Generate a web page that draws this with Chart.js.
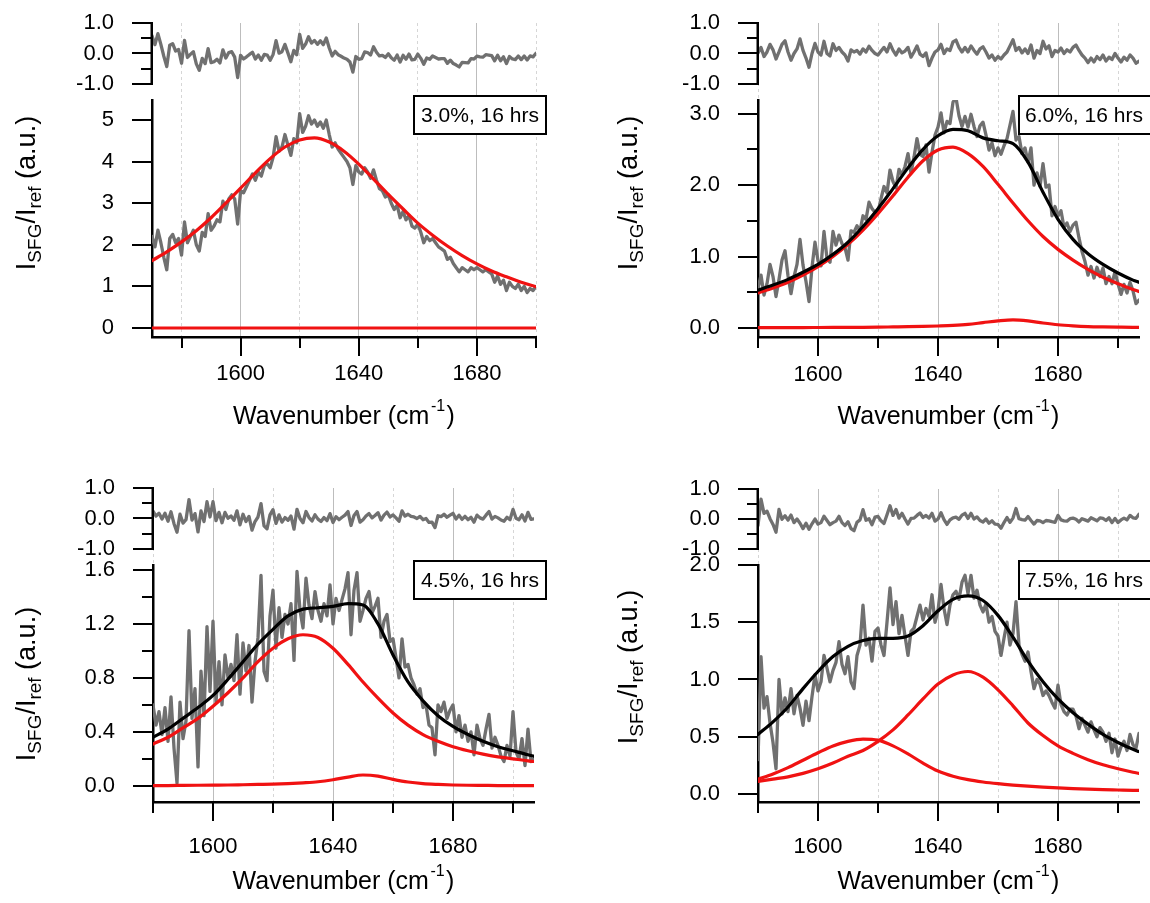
<!DOCTYPE html>
<html>
<head>
<meta charset="utf-8">
<script src="https://cdn.jsdelivr.net/npm/chart.js@4.4.1/dist/chart.umd.min.js"></script>
<style>
  html, body { margin: 0; padding: 0; background: #fff; }
  body { width: 1150px; height: 903px; position: relative; overflow: hidden; }
  canvas { position: absolute; }
</style>
</head>
<body>
<canvas id="c1" width="575" height="452" style="left:0;top:0"></canvas>
<canvas id="c2" width="575" height="452" style="left:575px;top:0"></canvas>
<canvas id="c3" width="575" height="452" style="left:0;top:451px"></canvas>
<canvas id="c4" width="575" height="452" style="left:575px;top:451px"></canvas>
<script>
// ---------------- text ----------------
const xTitleMain = 'Wavenumber (cm';
const xTitleSup = '-1';
const xTitleEnd = ')';
const yTitleParts = [['I', 0], ['SFG', 1], ['/I', 0], ['ref', 1], [' (a.u.)', 0]];
const boxTexts = ['3.0%, 16 hrs', '6.0%, 16 hrs', '4.5%, 16 hrs', '7.5%, 16 hrs'];

// ---------------- tick values / labels ----------------
const xTicks = [1580, 1600, 1620, 1640, 1660, 1680, 1700];
const xTickLabels = ['', '1600', '', '1640', '', '1680', ''];
const resTicks = [-1, -0.5, 0, 0.5, 1];
const resTickLabels = ['-1.0', '', '0.0', '', '1.0'];
const p1Ticks = [0, 1, 2, 3, 4, 5];
const p1TickLabels = ['0', '1', '2', '3', '4', '5'];
const p2Ticks = [0, 0.5, 1, 1.5, 2, 2.5, 3];
const p2TickLabels = ['0.0', '', '1.0', '', '2.0', '', '3.0'];
const p3Ticks = [0, 0.2, 0.4, 0.6, 0.8, 1.0, 1.2, 1.4, 1.6];
const p3TickLabels = ['0.0', '', '0.4', '', '0.8', '', '1.2', '', '1.6'];
const p4Ticks = [0, 0.5, 1, 1.5, 2];
const p4TickLabels = ['0.0', '0.5', '1.0', '1.5', '2.0'];

// ---------------- panel 1 (3.0%) : measured spectrum, 1 cm-1 steps from 1570 ----------------
const p1Start = 1570;
const p1Data = [
  2.20,1.95,2.35,2.05,1.70,1.40,2.15,2.25,2.05,2.15,
  1.75,2.55,2.05,2.20,2.35,2.00,1.85,2.30,2.20,2.75,
  2.35,2.45,2.60,2.55,3.05,2.85,3.10,3.20,3.10,2.50,
  3.30,3.25,3.40,3.55,3.70,3.55,3.75,3.65,3.90,3.95,
  3.85,4.10,4.60,4.25,4.35,4.65,4.40,4.15,4.55,4.45,
  5.15,4.70,4.85,5.10,4.90,5.00,4.85,4.95,4.80,5.00,
  4.65,4.35,4.45,4.30,4.20,4.10,4.00,3.85,3.45,3.90,
  3.75,3.70,3.85,3.75,3.60,3.80,3.55,3.35,3.30,3.15,
  3.20,3.00,2.85,2.95,2.65,2.80,2.60,2.70,2.45,2.40,
  2.50,2.30,2.05,2.20,2.10,2.15,2.05,1.95,1.90,1.85,
  1.65,1.70,1.55,1.45,1.35,1.45,1.40,1.35,1.45,1.40,
  1.45,1.40,1.35,1.40,1.35,1.30,1.10,1.25,1.05,1.15,
  0.90,1.10,1.00,0.95,1.05,0.90,1.00,0.85,0.95,0.90,
  1.00];
const p1Resid = [
  0.58,0.29,0.65,0.30,-0.09,-0.43,0.27,0.32,0.08,0.13,
  -0.32,0.43,-0.13,-0.03,0.06,-0.34,-0.55,-0.16,-0.33,0.16,
  -0.30,-0.27,-0.19,-0.31,0.12,-0.15,0.03,0.06,-0.12,-0.79,
  -0.06,-0.18,-0.11,-0.03,0.04,-0.18,-0.05,-0.22,-0.03,-0.05,
  -0.22,-0.03,0.42,0.01,0.06,0.30,0.02,-0.27,0.10,-0.04,
  0.63,0.17,0.31,0.55,0.34,0.43,0.30,0.42,0.29,0.51,
  0.18,-0.08,0.07,-0.04,-0.09,-0.15,-0.19,-0.28,-0.61,-0.10,
  -0.19,-0.17,0.05,0.03,-0.05,0.22,0.04,-0.08,-0.06,-0.13,
  -0.01,-0.14,-0.22,-0.05,-0.28,-0.06,-0.19,-0.02,-0.21,-0.19,
  -0.02,-0.16,-0.35,-0.15,-0.19,-0.08,-0.13,-0.18,-0.17,-0.17,
  -0.32,-0.22,-0.33,-0.38,-0.44,-0.29,-0.30,-0.31,-0.17,-0.18,
  -0.09,-0.11,-0.12,-0.04,-0.05,-0.07,-0.24,-0.06,-0.24,-0.11,
  -0.33,-0.10,-0.18,-0.20,-0.08,-0.20,-0.08,-0.21,-0.08,-0.11,
  0.01];
const p1FitX = [1570,1575,1580,1585,1590,1595,1600,1605,1610,1615,1620,1625,1630,1635,1640,1645,1650,1655,1660,1665,1670,1675,1680,1685,1690,1695,1700];
const p1FitA = [1.62,1.83,2.07,2.34,2.65,3.00,3.36,3.73,4.07,4.35,4.52,4.57,4.47,4.25,3.94,3.58,3.21,2.86,2.52,2.23,1.97,1.74,1.54,1.37,1.23,1.10,0.99];
const p1FitB = [0,0,0,0,0,0,0,0,0,0,0,0,0,0,0,0,0,0,0,0,0,0,0,0,0,0,0];

// ---------------- shared fit grid for panels 2-4 ----------------
const fitX = [1580,1585,1590,1595,1600,1605,1610,1615,1620,1625,1630,1635,1640,1645,1650,1655,1660,1665,1670,1675,1680,1685,1690,1695,1700,1705,1707];

// ---------------- panel 2 (6.0%) ----------------
const p2Start = 1580;
const p2Data = [
  0.55,0.74,0.46,0.62,0.89,0.72,0.44,0.68,0.95,1.08,
  0.73,0.48,0.72,0.89,1.24,0.88,0.65,0.37,0.85,1.20,
  0.94,0.87,1.35,0.97,0.92,1.35,1.16,1.30,1.18,1.12,
  0.95,1.36,1.34,1.43,1.36,1.57,1.52,1.76,1.67,1.62,
  1.62,1.81,1.98,1.89,2.21,2.05,1.96,2.22,2.14,2.26,
  2.44,2.17,2.39,2.65,2.43,2.40,2.56,2.18,2.46,2.70,
  2.81,3.01,2.73,2.89,2.86,3.16,3.22,2.97,2.82,2.96,
  2.81,2.99,2.82,2.68,2.83,2.88,2.70,2.49,2.59,2.41,
  2.52,2.43,2.55,2.65,2.84,3.03,2.63,2.68,2.44,2.52,
  2.32,2.52,2.00,2.17,1.98,2.30,1.97,2.00,1.57,1.70,
  1.57,1.64,1.41,1.47,1.35,1.44,1.48,1.26,1.07,0.93,
  0.74,0.86,0.70,0.85,0.72,0.84,0.62,0.72,0.62,0.79,
  0.62,0.47,0.61,0.49,0.64,0.52,0.34,0.39];
const p2Resid = [
  0.02,0.20,-0.10,0.05,0.30,0.12,-0.18,0.05,0.30,0.42,
  0.05,-0.22,0.00,0.15,0.48,0.10,-0.15,-0.45,0.00,0.33,
  0.05,-0.05,0.40,0.00,-0.08,0.32,0.10,0.20,0.05,-0.05,
  -0.25,0.12,0.05,0.10,-0.02,0.15,0.05,0.24,0.10,0.00,
  -0.05,0.08,0.20,0.05,0.32,0.10,-0.05,0.15,0.02,0.08,
  0.20,-0.12,0.05,0.25,-0.02,-0.10,0.02,-0.40,-0.15,0.05,
  0.12,0.30,0.00,0.15,0.10,0.38,0.44,0.20,0.05,0.20,
  0.05,0.25,0.10,-0.02,0.15,0.22,0.05,-0.15,-0.05,-0.22,
  -0.10,-0.18,-0.05,0.05,0.25,0.45,0.10,0.20,0.02,0.15,
  0.00,0.28,-0.15,0.10,0.00,0.40,0.15,0.25,-0.10,0.10,
  0.05,0.18,0.00,0.12,0.05,0.20,0.28,0.10,-0.05,-0.15,
  -0.30,-0.15,-0.28,-0.10,-0.20,-0.05,-0.25,-0.12,-0.20,0.00,
  -0.15,-0.28,-0.12,-0.22,-0.05,-0.15,-0.32,-0.25];
const p2FitA = [0.49,0.56,0.64,0.74,0.86,1.00,1.17,1.37,1.60,1.85,2.11,2.34,2.49,2.53,2.44,2.26,2.01,1.75,1.50,1.28,1.10,0.95,0.82,0.71,0.62,0.54,0.51];
const p2FitB = [0.005,0.005,0.006,0.006,0.007,0.008,0.009,0.010,0.012,0.015,0.018,0.022,0.028,0.036,0.050,0.075,0.100,0.115,0.100,0.070,0.045,0.030,0.020,0.015,0.012,0.010,0.010];
const p2FitSum = [0.53,0.60,0.68,0.78,0.89,1.03,1.20,1.42,1.67,1.95,2.24,2.50,2.69,2.78,2.76,2.66,2.62,2.58,2.32,1.90,1.52,1.24,1.04,0.89,0.77,0.67,0.64];

// ---------------- panel 3 (4.5%) ----------------
const p3Start = 1580;
const p3Data = [
  0.60,0.45,0.55,0.38,0.58,0.33,0.66,0.28,0.02,0.62,
  0.35,0.48,1.15,0.50,0.72,0.14,0.85,0.52,1.18,0.70,
  1.22,0.62,0.92,0.60,0.97,0.80,0.90,0.78,1.12,0.68,
  1.06,0.85,1.04,0.62,0.92,1.10,1.56,0.85,0.78,1.26,
  1.45,1.02,1.32,1.10,1.27,1.20,1.35,0.93,1.59,1.30,
  1.17,1.54,1.34,1.24,1.44,1.30,1.22,1.35,1.26,1.49,
  1.20,1.39,1.30,1.38,1.46,1.58,1.12,1.45,1.58,1.22,
  1.30,1.39,1.44,1.28,1.33,1.39,1.10,1.22,1.27,1.07,
  1.09,0.95,0.80,1.09,0.88,0.90,0.80,0.75,0.68,0.72,
  0.58,0.60,0.45,0.43,0.23,0.60,0.55,0.62,0.50,0.56,
  0.60,0.40,0.52,0.36,0.45,0.33,0.40,0.23,0.45,0.35,
  0.30,0.42,0.53,0.28,0.36,0.30,0.22,0.18,0.30,0.22,
  0.55,0.25,0.20,0.35,0.15,0.42,0.18,0.20];
const p3Resid = [
  0.24,0.08,0.17,-0.02,0.17,-0.09,0.22,-0.17,-0.45,0.14,
  -0.15,-0.04,0.62,-0.05,0.16,-0.44,0.25,-0.10,0.55,0.05,
  0.55,-0.07,0.20,-0.14,0.20,0.01,0.08,-0.06,0.25,-0.21,
  0.14,-0.10,0.07,-0.38,-0.10,0.05,0.49,-0.24,-0.34,0.12,
  0.29,-0.16,0.12,-0.12,0.03,-0.06,0.08,-0.35,0.30,0.00,
  -0.14,0.23,0.03,-0.08,0.12,-0.02,-0.10,0.03,-0.07,0.16,
  -0.13,0.06,-0.04,0.04,0.11,0.23,-0.23,0.10,0.23,-0.12,
  -0.04,0.08,0.16,0.02,0.10,0.19,-0.05,0.11,0.21,0.05,
  0.12,0.02,-0.09,0.25,0.08,0.14,0.07,0.05,0.00,0.07,
  -0.04,0.00,-0.13,-0.12,-0.30,0.09,0.06,0.14,0.04,0.11,
  0.17,-0.02,0.11,-0.03,0.07,-0.04,0.04,-0.12,0.11,0.02,
  -0.02,0.11,0.23,-0.02,0.07,0.02,-0.05,-0.09,0.04,-0.04,
  0.30,0.01,-0.04,0.12,-0.08,0.20,-0.03,-0.01];
const p3FitA = [0.31,0.36,0.43,0.50,0.59,0.69,0.80,0.92,1.02,1.09,1.12,1.10,1.02,0.90,0.77,0.65,0.54,0.45,0.38,0.33,0.29,0.26,0.235,0.215,0.20,0.185,0.18];
const p3FitB = [0.002,0.002,0.003,0.004,0.005,0.006,0.008,0.010,0.012,0.016,0.022,0.030,0.045,0.065,0.080,0.072,0.048,0.028,0.016,0.010,0.006,0.004,0.003,0.002,0.002,0.002,0.002];
const p3FitSum = [0.36,0.42,0.50,0.58,0.67,0.79,0.92,1.05,1.16,1.26,1.31,1.32,1.33,1.35,1.34,1.20,0.97,0.77,0.63,0.52,0.44,0.38,0.33,0.29,0.26,0.23,0.22];

// ---------------- panel 4 (7.5%) ----------------
const p4Start = 1580;
const p4Data = [
  0.30,1.20,0.75,0.85,0.62,0.45,0.22,1.00,0.70,0.84,
  0.72,0.92,0.70,0.86,0.75,0.60,0.81,0.64,0.85,1.04,
  0.90,0.98,1.21,1.10,0.98,1.08,1.15,1.33,1.13,1.05,
  1.20,0.98,0.92,1.21,1.30,1.65,1.30,1.36,1.16,1.42,
  1.45,1.30,1.21,1.50,1.80,1.48,1.68,1.40,1.56,1.38,
  1.21,1.42,1.45,1.55,1.65,1.52,1.62,1.55,1.74,1.50,
  1.60,1.83,1.62,1.48,1.65,1.74,1.77,1.70,1.85,1.91,
  1.75,1.91,1.71,1.78,1.65,1.59,1.66,1.50,1.55,1.42,
  1.38,1.21,1.36,1.50,1.30,1.40,1.68,1.30,1.22,1.16,
  1.24,1.07,0.92,1.00,0.96,0.86,0.90,0.86,0.80,0.75,
  0.95,0.78,0.72,0.69,0.74,0.74,0.68,0.57,0.66,0.60,
  0.54,0.63,0.56,0.50,0.58,0.54,0.46,0.53,0.36,0.48,
  0.33,0.41,0.46,0.38,0.52,0.43,0.40,0.53];
const p4Resid = [
  -0.22,0.66,0.19,0.26,0.01,-0.18,-0.44,0.32,-0.01,0.11,
  -0.04,0.13,-0.12,0.00,-0.14,-0.32,-0.14,-0.34,-0.16,0.00,
  -0.17,-0.12,0.09,-0.05,-0.19,-0.12,-0.07,0.09,-0.12,-0.22,
  -0.09,-0.32,-0.39,-0.11,-0.03,0.31,-0.04,0.01,-0.19,0.06,
  0.09,-0.06,-0.15,0.14,0.44,0.12,0.32,0.03,0.19,0.00,
  -0.17,0.02,0.03,0.12,0.20,0.05,0.12,0.03,0.19,-0.07,
  0.00,0.21,-0.02,-0.18,-0.03,0.04,0.06,-0.01,0.13,0.19,
  0.02,0.19,0.00,0.07,-0.05,-0.10,0.00,-0.14,-0.06,-0.17,
  -0.18,-0.31,-0.12,0.05,-0.11,0.03,0.35,0.01,-0.02,-0.04,
  0.08,-0.05,-0.17,-0.05,-0.06,-0.12,-0.05,-0.06,-0.09,-0.11,
  0.12,-0.03,-0.06,-0.07,0.01,0.03,-0.01,-0.10,0.01,-0.03,
  -0.07,0.04,-0.01,-0.06,0.04,0.02,-0.05,0.04,-0.12,0.02,
  -0.12,-0.03,0.03,-0.03,0.12,0.04,0.02,0.16];
const p4FitA = [0.11,0.13,0.15,0.18,0.22,0.27,0.33,0.38,0.46,0.56,0.69,0.83,0.96,1.04,1.07,1.02,0.91,0.77,0.62,0.51,0.42,0.355,0.30,0.255,0.22,0.19,0.18];
const p4FitB = [0.13,0.175,0.23,0.295,0.36,0.42,0.46,0.48,0.47,0.42,0.35,0.27,0.20,0.155,0.125,0.105,0.09,0.078,0.068,0.06,0.053,0.047,0.042,0.038,0.035,0.032,0.031];
const p4FitSum = [0.52,0.63,0.76,0.92,1.07,1.20,1.29,1.34,1.36,1.36,1.38,1.47,1.60,1.70,1.73,1.69,1.56,1.37,1.16,0.98,0.83,0.71,0.61,0.52,0.45,0.39,0.37];

// ---------------- styling / layout ----------------
const FONT = '"Liberation Sans", Arial, Helvetica, sans-serif';
const GRAY = '#707070';
const RED = '#f01212';
const BLACK = '#000000';
const MAJOR_X = new Set([1600, 1640, 1680]);

function pts(xs, ys) { return ys.map((v, i) => ({x: xs[i], y: v})); }
function grid(start, n) { const a = []; for (let i = 0; i < n; i++) a.push(start + i); return a; }
function noPad(s) { s.paddingTop = 0; s.paddingBottom = 0; s.paddingLeft = 0; s.paddingRight = 0; }

const decor = {
  id: 'decor',
  afterDraw(chart, args, o) {
    const ctx = chart.ctx;
    const {x, y, yr} = chart.scales;
    ctx.save();
    ctx.strokeStyle = '#000';
    ctx.lineCap = 'butt';
    // residual axis line (only between its end ticks)
    ctx.lineWidth = 2.5;
    ctx.beginPath();
    ctx.moveTo(yr.right - 0.25, yr.getPixelForValue(resTicks[resTicks.length - 1]) - 1);
    ctx.lineTo(yr.right - 0.25, yr.getPixelForValue(resTicks[0]) + 1);
    ctx.stroke();
    // tick marks
    ctx.lineWidth = 2;
    [y, yr].forEach(s => s.ticks.forEach(t => {
      const py = Math.round(s.getPixelForValue(t.value));
      const len = t.label ? 20 : 11;
      ctx.beginPath(); ctx.moveTo(s.right - len, py); ctx.lineTo(s.right, py); ctx.stroke();
    }));
    x.ticks.forEach(t => {
      const px = Math.round(x.getPixelForValue(t.value));
      const len = t.label ? 19 : 11;
      ctx.beginPath(); ctx.moveTo(px, x.top); ctx.lineTo(px, x.top + len); ctx.stroke();
    });
    // x title with superscript
    ctx.fillStyle = '#000';
    ctx.textBaseline = 'alphabetic';
    ctx.textAlign = 'left';
    const bigF = '25px ' + FONT, supF = '16px ' + FONT;
    ctx.font = bigF; const w1 = ctx.measureText(xTitleMain).width; const w3 = ctx.measureText(xTitleEnd).width;
    ctx.font = supF; const w2 = ctx.measureText(xTitleSup).width;
    let tx = (x.left + x.right) / 2 - (w1 + w2 + w3 + 3) / 2;
    const ty = x.top + o.xTitleDy + 9;
    ctx.font = bigF; ctx.fillText(xTitleMain, tx, ty); tx += w1 + 1.5;
    ctx.font = supF; ctx.fillText(xTitleSup, tx, ty - 13); tx += w2 + 1.5;
    ctx.font = bigF; ctx.fillText(xTitleEnd, tx, ty);
    // y title with subscripts
    const yBig = o.yFont + 'px ' + FONT, ySmall = Math.round(o.yFont * 0.7) + 'px ' + FONT;
    let total = 0;
    const widths = yTitleParts.map(p => { ctx.font = p[1] ? ySmall : yBig; const w = ctx.measureText(p[0]).width; total += w; return w; });
    ctx.translate(o.yTitleX, o.yTitleY);
    ctx.rotate(-Math.PI / 2);
    let lx = -total / 2;
    yTitleParts.forEach((p, i) => {
      ctx.font = p[1] ? ySmall : yBig;
      ctx.fillText(p[0], lx, o.yFont * 0.36 + (p[1] ? o.yFont * 0.22 : 0));
      lx += widths[i];
    });
    ctx.setTransform(1, 0, 0, 1, 0, 0);
    // annotation box
    const b = o.box;
    ctx.fillStyle = '#fff';
    ctx.fillRect(b.x, b.y, b.w, b.h);
    ctx.lineWidth = 2;
    ctx.strokeRect(b.x, b.y, b.w, b.h);
    ctx.fillStyle = '#000';
    ctx.font = '21px ' + FONT;
    ctx.textBaseline = 'middle';
    ctx.textAlign = b.align;
    ctx.fillText(b.text, b.align === 'center' ? b.x + b.w / 2 : b.x + 6, b.y + b.h / 2 + 1);
    ctx.restore();
  }
};

function makePanel(id, p) {
  const dataX = grid(p.start, p.data.length);
  const datasets = [];
  const smooth = {tension: 0.4, cubicInterpolationMode: 'monotone'};
  if (p.fitSum) datasets.push(Object.assign({data: pts(p.fitX, p.fitSum), borderColor: BLACK, yAxisID: 'y', order: 0}, smooth));
  datasets.push(Object.assign({data: pts(p.fitX, p.fitA), borderColor: RED, yAxisID: 'y', order: 1}, smooth));
  datasets.push(Object.assign({data: pts(p.fitX, p.fitB), borderColor: RED, yAxisID: 'y', order: 1}, smooth));
  datasets.push({data: pts(dataX, p.data), borderColor: GRAY, yAxisID: 'y', order: 2, tension: 0, borderWidth: 3.3});
  datasets.push({data: pts(dataX, p.resid), borderColor: GRAY, yAxisID: 'yr', order: 3, tension: 0, borderWidth: 3.3});
  datasets.forEach(d => { if (!d.borderWidth) d.borderWidth = 3.2; d.pointRadius = 0; d.fill = false; d.borderJoinStyle = 'round'; d.borderCapStyle = 'round'; });

  const tickFont = {family: FONT, size: 22};
  new Chart(document.getElementById(id), {
    type: 'line',
    data: {datasets},
    options: {
      responsive: false,
      animation: false,
      devicePixelRatio: 1,
      events: [],
      layout: {padding: {left: 0, top: p.padTop, right: p.padRight, bottom: p.padBottom}},
      plugins: {
        legend: {display: false},
        tooltip: {enabled: false},
        decor: {xTitleDy: 78, yTitleX: p.yTitleX, yTitleY: p.yTitleY, yFont: p.yFont, box: p.box}
      },
      scales: {
        x: {
          type: 'linear', position: 'bottom', min: p.xMin, max: p.xMax,
          afterBuildTicks: s => { s.ticks = xTicks.map(v => ({value: v})); },
          afterFit: s => { s.height = 100; noPad(s); },
          ticks: {font: tickFont, color: '#000', padding: p.xLabelPad, autoSkip: false, maxRotation: 0, minRotation: 0,
                  callback: (v, i) => xTickLabels[i]},
          grid: {drawTicks: false, lineWidth: 1,
                 color: c => (c.tick && MAJOR_X.has(c.tick.value)) ? '#bdbdbd' : '#d6d6d6'},
          border: {display: true, color: '#000', width: 2.5,
                   dash: c => (c.tick && MAJOR_X.has(c.tick.value)) ? [] : [3, 3]}
        },
        y: {
          type: 'linear', position: 'left', stack: 'panel', stackWeight: p.mainWeight, weight: 0,
          min: p.yMin, max: p.yMax,
          afterBuildTicks: s => { s.ticks = p.yTicks.map(v => ({value: v})); },
          afterFit: s => { s.width = p.yWidth; noPad(s); },
          ticks: {font: tickFont, color: '#000', padding: 30, autoSkip: false, callback: (v, i) => p.yLabels[i]},
          grid: {display: false},
          border: {display: true, color: '#000', width: 2.5}
        },
        yr: {
          type: 'linear', position: 'left', stack: 'panel', stackWeight: p.resWeight, weight: 1,
          min: p.rMin, max: 1,
          afterBuildTicks: s => { s.ticks = resTicks.map(v => ({value: v})); },
          afterFit: s => { s.width = p.yWidth; noPad(s); },
          ticks: {font: tickFont, color: '#000', padding: 30, autoSkip: false, callback: (v, i) => resTickLabels[i]},
          grid: {display: false},
          border: {display: false}
        }
      }
    },
    plugins: [decor]
  });
}

makePanel('c1', {
  start: p1Start, data: p1Data, resid: p1Resid, fitX: p1FitX, fitA: p1FitA, fitB: p1FitB, fitSum: null,
  xMin: 1570, xMax: 1700, yMin: -0.216, yMax: 5.48, rMin: -1.525,
  yTicks: p1Ticks, yLabels: p1TickLabels, xLabelPad: 24,
  padTop: 23, padRight: 39, padBottom: 15, yWidth: 152, mainWeight: 237, resWeight: 77,
  yTitleX: 25, yTitleY: 193, yFont: 27,
  box: {x: 414, y: 96, w: 132, h: 38, text: boxTexts[0], align: 'center'}
});
makePanel('c2', {
  start: p2Start, data: p2Data, resid: p2Resid, fitX: fitX, fitA: p2FitA, fitB: p2FitB, fitSum: p2FitSum,
  xMin: 1580, xMax: 1707, yMin: -0.126, yMax: 3.19, rMin: -1.525,
  yTicks: p2Ticks, yLabels: p2TickLabels, xLabelPad: 25,
  padTop: 23, padRight: 11, padBottom: 15, yWidth: 183, mainWeight: 237, resWeight: 77,
  yTitleX: 52, yTitleY: 193, yFont: 27,
  box: {x: 444, y: 96, w: 140, h: 38, text: boxTexts[1], align: 'left'}
});
makePanel('c3', {
  start: p3Start, data: p3Data, resid: p3Resid, fitX: fitX, fitA: p3FitA, fitB: p3FitB, fitSum: p3FitSum,
  xMin: 1580, xMax: 1707, yMin: -0.12, yMax: 1.637, rMin: -1.525,
  yTicks: p3Ticks, yLabels: p3TickLabels, xLabelPad: 32,
  padTop: 37, padRight: 41, padBottom: 1, yWidth: 153, mainWeight: 237, resWeight: 77,
  yTitleX: 25, yTitleY: 233, yFont: 27,
  box: {x: 414, y: 110, w: 132, h: 38, text: boxTexts[2], align: 'center'}
});
makePanel('c4', {
  start: p4Start, data: p4Data, resid: p4Resid, fitX: fitX, fitA: p4FitA, fitB: p4FitB, fitSum: p4FitSum,
  xMin: 1580, xMax: 1707, yMin: -0.07, yMax: 2.0, rMin: -1.533,
  yTicks: p4Ticks, yLabels: p4TickLabels, xLabelPad: 32,
  padTop: 38, padRight: 11, padBottom: 1, yWidth: 183, mainWeight: 237, resWeight: 76,
  yTitleX: 52, yTitleY: 216, yFont: 27,
  box: {x: 444, y: 110, w: 140, h: 38, text: boxTexts[3], align: 'left'}
});
</script>
</body>
</html>
